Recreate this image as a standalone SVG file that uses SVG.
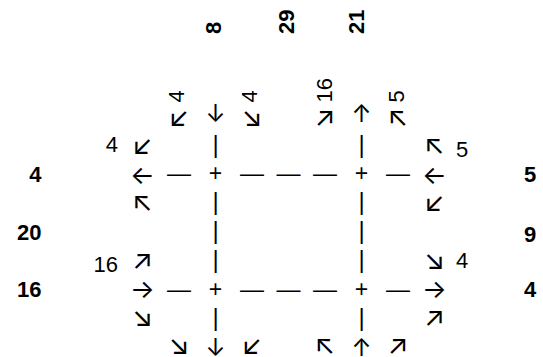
<svg xmlns="http://www.w3.org/2000/svg" width="543" height="357" viewBox="0 0 543 357">
<style>
text{font-family:"Liberation Sans","DejaVu Sans",sans-serif;fill:#000}
.a,.d,.w{font-family:Inter,"Noto Sans CJK SC","DejaVu Sans",sans-serif;text-anchor:middle}
.a{font-size:24px}
.d{font-size:27px}
.w{font-size:26px}
.v{font-family:"DejaVu Sans",sans-serif;font-size:23px;text-anchor:middle}
.h{font-size:24px;text-anchor:middle}
.p{font-size:23px;text-anchor:middle}
.n{font-size:22px}
.b{font-size:22px;font-weight:bold}
.e{text-anchor:end}
</style>
<rect width="543" height="357" fill="#fff"/>
<g id="roads">
<text class="v" x="215.5" y="152.5">|</text>
<text class="v" x="361.5" y="152.5">|</text>
<text class="h" x="179" y="181.4">—</text>
<text class="p" x="215.5" y="181.4">+</text>
<text class="h" x="252" y="181.4">—</text>
<text class="h" x="288.5" y="181.4">—</text>
<text class="h" x="325" y="181.4">—</text>
<text class="p" x="361.5" y="181.4">+</text>
<text class="h" x="398" y="181.4">—</text>
<text class="v" x="215.5" y="210.3">|</text>
<text class="v" x="361.5" y="210.3">|</text>
<text class="v" x="215.5" y="239.2">|</text>
<text class="v" x="361.5" y="239.2">|</text>
<text class="v" x="215.5" y="268.1">|</text>
<text class="v" x="361.5" y="268.1">|</text>
<text class="h" x="179" y="297">—</text>
<text class="p" x="215.5" y="297">+</text>
<text class="h" x="252" y="297">—</text>
<text class="h" x="288.5" y="297">—</text>
<text class="h" x="325" y="297">—</text>
<text class="p" x="361.5" y="297">+</text>
<text class="h" x="398" y="297">—</text>
<text class="v" x="215.5" y="325.9">|</text>
<text class="v" x="361.5" y="325.9">|</text>
</g>
<g id="north-in">
<text class="b" transform="translate(220.5,34) rotate(-90)">8</text>
<text class="n" transform="translate(183.5,102.5) rotate(-90)">4</text>
<text class="n" transform="translate(257,102.5) rotate(-90)">4</text>
<text class="d" x="179" y="125.9">↙</text>
<text class="a" x="215.5" y="122.3">↓</text>
<text class="d" x="252" y="125.9">↘</text>
</g>
<g id="north-total">
<text class="b" transform="translate(293.5,34) rotate(-90)">29</text>
</g>
<g id="north-out">
<text class="b" transform="translate(363.5,34) rotate(-90)">21</text>
<text class="n" transform="translate(332,102.5) rotate(-90)">16</text>
<text class="n" transform="translate(403.5,102.5) rotate(-90)">5</text>
<text class="d" x="325" y="125.9">↗</text>
<text class="a" x="361.5" y="122.3">↑</text>
<text class="d" x="398" y="125.9">↖</text>
</g>
<g id="west-out">
<text class="b e" x="41.5" y="182.3">4</text>
<text class="n e" x="118" y="152.3">4</text>
<text class="d" x="142.5" y="153.9">↙</text>
<text class="w" x="142.5" y="183.5">←</text>
<text class="d" x="142.5" y="210.5">↖</text>
</g>
<g id="west-total">
<text class="b e" x="41.5" y="240">20</text>
</g>
<g id="west-in">
<text class="b e" x="41.5" y="296.7">16</text>
<text class="n e" x="118" y="271.7">16</text>
<text class="d" x="142.5" y="269.2">↗</text>
<text class="w" x="142.5" y="297.5">→</text>
<text class="d" x="142.5" y="326.2">↘</text>
</g>
<g id="east-in">
<text class="b" x="524" y="181.7">5</text>
<text class="n" x="456" y="157.3">5</text>
<text class="d" x="434.5" y="153.9">↖</text>
<text class="w" x="434.5" y="183.5">←</text>
<text class="d" x="434.5" y="210.5">↙</text>
</g>
<g id="east-total">
<text class="b" x="524" y="241.7">9</text>
</g>
<g id="east-out">
<text class="b" x="524" y="296.7">4</text>
<text class="n" x="456" y="268.3">4</text>
<text class="d" x="434.5" y="269.2">↘</text>
<text class="w" x="434.5" y="297.5">→</text>
<text class="d" x="434.5" y="326.2">↗</text>
</g>
<g id="south">
<text class="d" x="179" y="354.2">↘</text>
<text class="a" x="215.5" y="355.6">↓</text>
<text class="d" x="252" y="354.2">↙</text>
<text class="d" x="325" y="354.2">↖</text>
<text class="a" x="361.5" y="355.6">↑</text>
<text class="d" x="398" y="354.2">↗</text>
</g>
</svg>
